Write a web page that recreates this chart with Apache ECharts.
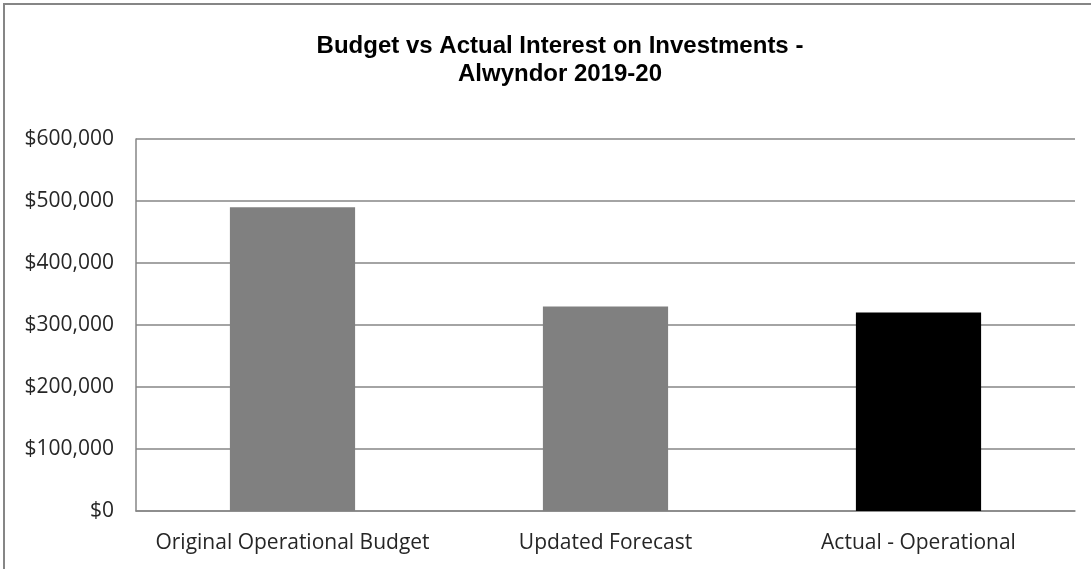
<!DOCTYPE html>
<html>
<head>
<meta charset="utf-8">
<script src="https://cdn.jsdelivr.net/npm/echarts@6/dist/echarts.min.js"></script>
<style>
html,body{margin:0;padding:0;background:#fff;}
#chart{width:1091px;height:569px;}
</style>
</head>
<body>
<div id="chart"></div>
<script>
const categories = ['Original Operational Budget', 'Updated Forecast', 'Actual - Operational'];
const values = [490000, 330000, 320000];
const barColors = ['#808080', '#808080', '#000000'];
const yTicks = { min: 0, max: 600000, interval: 100000 };

const chart = echarts.init(document.getElementById('chart'), null, { renderer: 'canvas' });
chart.setOption({
  animation: false,
  backgroundColor: '#ffffff',
  title: {
    text: 'Budget vs Actual Interest on Investments -\nAlwyndor 2019-20',
    left: 555,
    top: 27,
    textAlign: 'center',
    textStyle: {
      fontFamily: 'Liberation Sans',
      fontWeight: 'bold',
      fontSize: 24,
      lineHeight: 28,
      color: '#000000'
    }
  },
  graphic: [{
    type: 'rect',
    shape: { x: 4, y: 4, width: 1110, height: 590 },
    style: { fill: 'none', stroke: '#868686', lineWidth: 2 },
    silent: true
  }],
  grid: { left: 136, right: 16, top: 139, bottom: 58 },
  xAxis: {
    type: 'category',
    data: categories,
    axisLine: { show: true, lineStyle: { color: '#868686', width: 1.5 } },
    axisTick: { show: false },
    axisLabel: {
      interval: 0,
      margin: 22,
      fontFamily: 'Open Sans',
      fontSize: 21,
      color: '#262626'
    }
  },
  yAxis: {
    type: 'value',
    min: yTicks.min,
    max: yTicks.max,
    interval: yTicks.interval,
    axisLine: { show: true, lineStyle: { color: '#868686', width: 1.5 } },
    axisTick: { show: false },
    splitLine: { show: true, lineStyle: { color: '#868686', width: 1.5 } },
    axisLabel: {
      margin: 22,
      fontFamily: 'Open Sans',
      fontSize: 21,
      color: '#262626',
      formatter: v => '$' + v.toLocaleString('en-US')
    }
  },
  series: [{
    type: 'bar',
    barWidth: '40%',
    data: values.map((v, i) => ({ value: v, itemStyle: { color: barColors[i] } }))
  }]
});
</script>
</body>
</html>
